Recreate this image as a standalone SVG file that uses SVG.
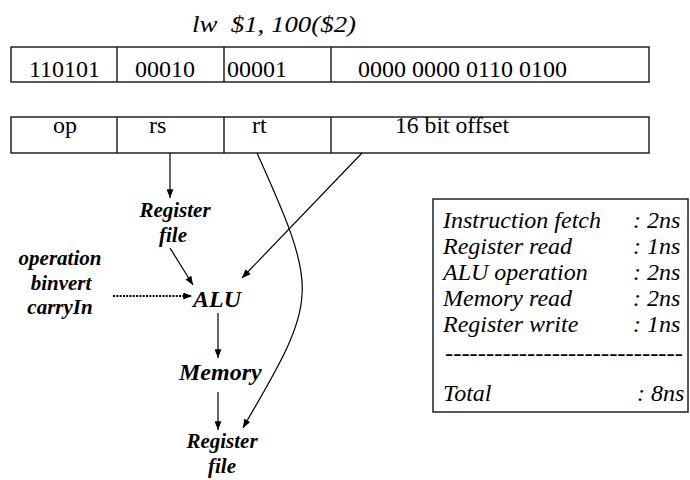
<svg xmlns="http://www.w3.org/2000/svg" width="690" height="480" viewBox="0 0 690 480">
<defs>
<marker id="arr" viewBox="0 0 10 8" refX="10" refY="4" markerWidth="9" markerHeight="7" markerUnits="userSpaceOnUse" orient="auto">
<path d="M0,0 L10,4 L0,8 Z" fill="#000"/>
</marker>
</defs>
<style>
.t{font-size:24px}
.it{font-size:24px;font-style:italic}
.bi{font-size:21px;font-style:italic;font-weight:bold}
.bl{font-size:24px;font-style:italic;font-weight:bold}
.box{fill:#fff;stroke:#222;stroke-width:1.5}
.ln{fill:none;stroke:#000;stroke-width:1.2}
.dot{fill:none;stroke:#000;stroke-width:2;stroke-dasharray:2 1.3}
</style>
<rect width="690" height="480" fill="#fff"/>
<g font-family="'Liberation Serif', 'DejaVu Serif', serif" fill="#000">
<g id="title"><text class="it" x="192" y="32" xml:space="preserve" textLength="164" lengthAdjust="spacingAndGlyphs">lw  $1, 100($2)</text></g>
<g id="encoding">
<rect class="box" x="11" y="47" width="638" height="35"/>
<line class="box" x1="117" y1="47" x2="117" y2="82"/>
<line class="box" x1="224" y1="47" x2="224" y2="82"/>
<line class="box" x1="331" y1="47" x2="331" y2="82"/>
<text class="t" x="29" y="77">110101</text>
<text class="t" x="135" y="77">00010</text>
<text class="t" x="227" y="77">00001</text>
<text class="t" x="358" y="77" textLength="209" lengthAdjust="spacingAndGlyphs">0000 0000 0110 0100</text>
</g>
<g id="fields">
<rect class="box" x="11" y="117" width="638" height="36"/>
<line class="box" x1="117" y1="117" x2="117" y2="153"/>
<line class="box" x1="224" y1="117" x2="224" y2="153"/>
<line class="box" x1="331" y1="117" x2="331" y2="153"/>
<text class="t" x="53" y="133">op</text>
<text class="t" x="149" y="133">rs</text>
<text class="t" x="252" y="133">rt</text>
<text class="t" x="395" y="133" textLength="114" lengthAdjust="spacingAndGlyphs">16 bit offset</text>
</g>
<g id="regfile1"><text class="bi" x="175" y="217" text-anchor="middle">Register</text><text class="bi" x="173" y="242" text-anchor="middle">file</text></g>
<g id="control"><text class="bi" x="60" y="265" text-anchor="middle">operation</text><text class="bi" x="61" y="290" text-anchor="middle">binvert</text><text class="bi" x="60" y="314" text-anchor="middle">carryIn</text></g>
<g id="alu"><text class="bl" x="193" y="307">ALU</text></g>
<g id="memory"><text class="bl" x="179" y="380">Memory</text></g>
<g id="regfile2"><text class="bi" x="222" y="448" text-anchor="middle">Register</text><text class="bi" x="222" y="473" text-anchor="middle">file</text></g>
<g id="timing">
<rect class="box" x="433" y="199" width="255" height="213"/>
<text class="it" x="443" y="228">Instruction fetch</text><text class="it" x="633" y="228">: 2ns</text>
<text class="it" x="443" y="254">Register read</text><text class="it" x="633" y="254">: 1ns</text>
<text class="it" x="443" y="280">ALU operation</text><text class="it" x="633" y="280">: 2ns</text>
<text class="it" x="443" y="306">Memory read</text><text class="it" x="633" y="306">: 2ns</text>
<text class="it" x="443" y="332">Register write</text><text class="it" x="633" y="332">: 1ns</text>
<text class="it" x="445" y="361" textLength="238" lengthAdjust="spacingAndGlyphs">-----------------------------</text>
<text class="it" x="443" y="401">Total</text><text class="it" x="637" y="401">: 8ns</text>
</g>
</g>
<g id="connectors">
<line class="ln" x1="170" y1="153" x2="170" y2="198" marker-end="url(#arr)"/>
<line class="ln" x1="170" y1="248" x2="193" y2="285" marker-end="url(#arr)"/>
<line class="ln" x1="362" y1="153" x2="242" y2="278" marker-end="url(#arr)"/>
<line class="dot" x1="113" y1="296" x2="192" y2="296" marker-end="url(#arr)"/>
<line class="ln" x1="218" y1="313" x2="218" y2="358" marker-end="url(#arr)"/>
<line class="ln" x1="218" y1="392" x2="218" y2="430" marker-end="url(#arr)"/>
<path class="ln" d="M257,153 C285,215 305,260 302,295 C300,335 270,380 243,428" marker-end="url(#arr)"/>
</g>
</svg>
